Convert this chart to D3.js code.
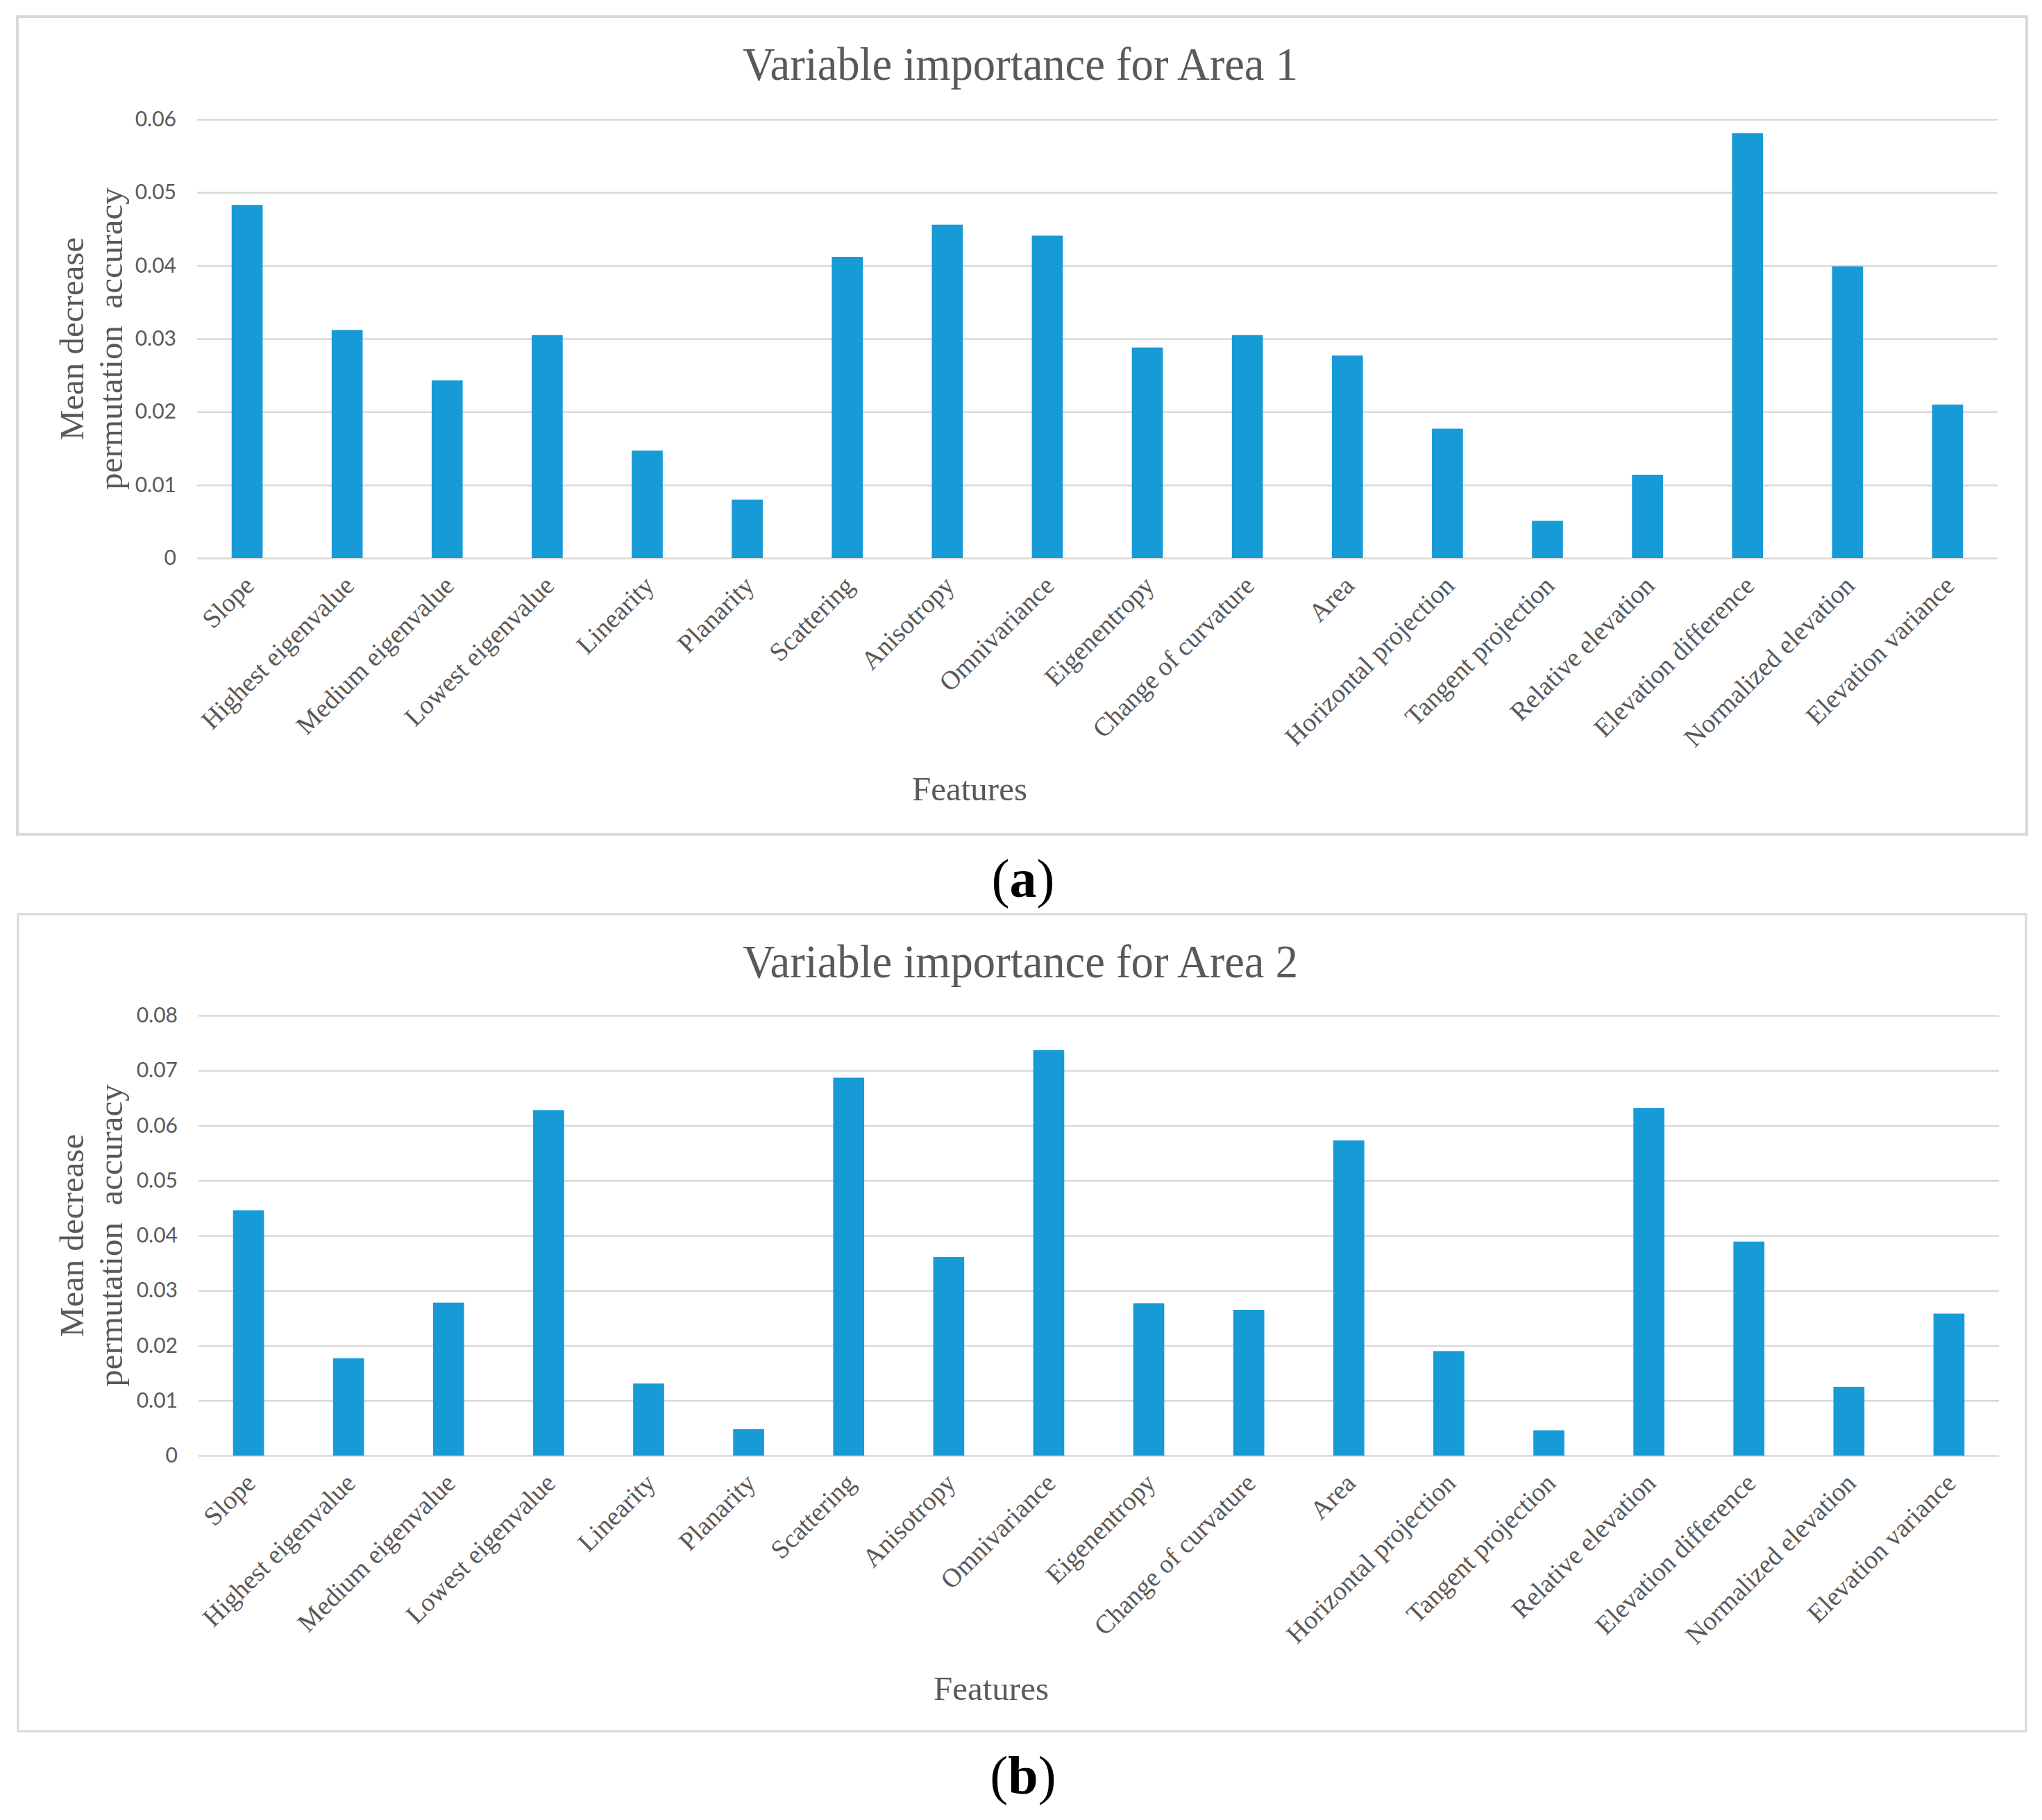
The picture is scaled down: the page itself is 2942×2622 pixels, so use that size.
<!DOCTYPE html>
<html>
<head>
<meta charset="utf-8">
<script src="https://cdn.jsdelivr.net/npm/d3@7"></script>
<style>
  body { margin: 0; background: #fff; }
  svg { display: block; }
</style>
</head>
<body>
<div id="chart"></div>
<script>
(function() {
    var width = 2942,
        height = 2622;

    // data
    var features = ["Slope", "Highest eigenvalue", "Medium eigenvalue", "Lowest eigenvalue",
        "Linearity", "Planarity", "Scattering", "Anisotropy", "Omnivariance", "Eigenentropy",
        "Change of curvature", "Area", "Horizontal projection", "Tangent projection",
        "Relative elevation", "Elevation difference", "Normalized elevation", "Elevation variance"];

    var area1 = [0.0483, 0.0312, 0.0243, 0.0305, 0.0147, 0.0080, 0.0412, 0.0456, 0.0441,
        0.0288, 0.0305, 0.0277, 0.0177, 0.0051, 0.0114, 0.0581, 0.0399, 0.0210];

    var area2 = [0.0446, 0.0177, 0.0278, 0.0628, 0.0131, 0.0048, 0.0687, 0.0361, 0.0737,
        0.0277, 0.0265, 0.0573, 0.0190, 0.0046, 0.0632, 0.0389, 0.0125, 0.0258];

    var ticks1 = [0, 0.01, 0.02, 0.03, 0.04, 0.05, 0.06];
    var ticks2 = [0, 0.01, 0.02, 0.03, 0.04, 0.05, 0.06, 0.07, 0.08];

    var titles = ["Variable importance for Area 1", "Variable importance for Area 2"];
    var captions = ["a", "b"];

    var gray = "#595959",
        grid = "#d9d9d9",
        barColor = "#179bd7",
        serif = "'Liberation Serif', 'Times New Roman', serif",
        sans = "Lato, 'Open Sans', 'Liberation Sans', sans-serif";

    var svg = d3.select("#chart")
        .append("svg")
        .attr("width", width)
        .attr("height", height);

    function drawPanel(p) {
        // outer frame
        svg.append("rect")
            .attr("x", p.box[0])
            .attr("y", p.box[1])
            .attr("width", p.box[2] - p.box[0])
            .attr("height", p.box[3] - p.box[1])
            .attr("fill", "none")
            .attr("stroke", grid)
            .attr("stroke-width", p.boxStroke);

        var g = svg.append("g")
            .attr("transform", "translate(" + p.left + "," + p.top + ")");

        var pw = p.right - p.left,
            ph = p.bottom - p.top;

        var x = d3.scaleBand()
            .domain(features)
            .range([0, pw])
            .paddingInner(0.69)
            .paddingOuter(0.345);

        var y = d3.scaleLinear()
            .domain([0, d3.max(p.ticks)])
            .range([ph, 0]);

        var yAxis = g.append("g")
            .call(d3.axisLeft(y)
                .tickValues(p.ticks)
                .tickSize(-pw)
                .tickPadding(30)
                .tickFormat(function(d) { return d === 0 ? "0" : d3.format(".2f")(d); }));

        yAxis.select(".domain").remove();
        yAxis.selectAll("line")
            .attr("stroke", grid)
            .attr("stroke-width", 2.5);
        yAxis.selectAll("text")
            .attr("fill", gray)
            .style("font-family", sans)
            .style("font-size", "30px");

        g.selectAll(".bar")
            .data(p.values)
            .enter().append("rect")
            .attr("class", "bar")
            .attr("x", function(d, i) { return x(features[i]); })
            .attr("width", x.bandwidth())
            .attr("y", function(d) { return y(d); })
            .attr("height", function(d) { return ph - y(d); })
            .attr("fill", barColor);

        var xAxis = g.append("g")
            .attr("transform", "translate(0," + ph + ")")
            .call(d3.axisBottom(x).tickSize(0));

        xAxis.select(".domain").remove();
        xAxis.selectAll("text")
            .attr("x", 0)
            .attr("y", 0)
            .attr("dy", 0)
            .attr("transform", "translate(12,42) rotate(-45)")
            .attr("fill", gray)
            .style("text-anchor", "end")
            .style("font-family", serif)
            .style("font-size", "38px");

        // chart title
        svg.append("text")
            .attr("x", 1470)
            .attr("y", p.box[1] + 91)
            .attr("text-anchor", "middle")
            .attr("fill", gray)
            .attr("textLength", 800)
            .attr("lengthAdjust", "spacingAndGlyphs")
            .style("font-family", serif)
            .style("font-size", "68px")
            .text(p.title);

        // y axis title, two lines
        var cy = (p.top + p.bottom) / 2;
        svg.append("text")
            .attr("transform", "translate(120," + cy + ") rotate(-90)")
            .attr("text-anchor", "middle")
            .attr("fill", gray)
            .style("font-family", serif)
            .style("font-size", "49px")
            .text("Mean decrease");

        svg.append("text")
            .attr("transform", "translate(176," + cy + ") rotate(-90)")
            .attr("text-anchor", "middle")
            .attr("fill", gray)
            .attr("xml:space", "preserve")
            .style("white-space", "pre")
            .style("font-family", serif)
            .style("font-size", "49px")
            .text("permutation  accuracy");

        // x axis title
        svg.append("text")
            .attr("x", p.featX)
            .attr("y", p.featY)
            .attr("text-anchor", "middle")
            .attr("fill", gray)
            .style("font-family", serif)
            .style("font-size", "49px")
            .text("Features");

        // panel caption
        var cap = svg.append("text")
            .attr("x", 1474)
            .attr("y", p.capY)
            .attr("text-anchor", "middle")
            .attr("fill", "#000")
            .style("font-family", serif)
            .style("font-size", "78px");
        cap.append("tspan").text("(");
        cap.append("tspan").style("font-weight", "bold").text(p.caption);
        cap.append("tspan").text(")");
    }

    drawPanel({
        box: [25, 24, 2920, 1202], boxStroke: 4,
        left: 284, right: 2878, top: 172, bottom: 804,
        values: area1, ticks: ticks1, title: titles[0], caption: captions[0],
        featX: 1397, featY: 1153, capY: 1292
    });

    drawPanel({
        box: [26, 1317, 2919, 2494], boxStroke: 3,
        left: 286, right: 2880, top: 1463, bottom: 2097,
        values: area2, ticks: ticks2, title: titles[1], caption: captions[1],
        featX: 1428, featY: 2449, capY: 2584
    });
})();
</script>
</body>
</html>
